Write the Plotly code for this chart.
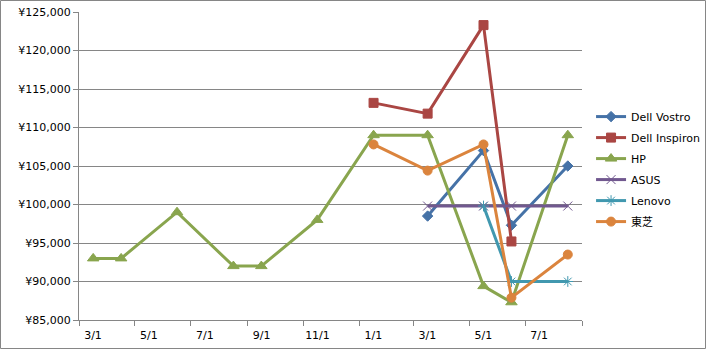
import plotly.graph_objects as go

hp_months = ["2009-03", "2009-04", "2009-06", "2009-08", "2009-09", "2009-11",
             "2010-01", "2010-03", "2010-05", "2010-06", "2010-08"]
hp_vals = [93000, 93000, 99000, 92000, 92000, 98000, 109000, 109000, 89400, 87300, 109000]

vostro_months = ["2010-03", "2010-05", "2010-06", "2010-08"]
vostro_vals = [98500, 107000, 97300, 105000]

inspiron_months = ["2010-01", "2010-03", "2010-05", "2010-06"]
inspiron_vals = [113200, 111800, 123300, 95200]

asus_months = ["2010-03", "2010-05", "2010-06", "2010-08"]
asus_vals = [99800, 99800, 99800, 99800]

lenovo_months = ["2010-05", "2010-06", "2010-08"]
lenovo_vals = [99800, 90000, 90000]

toshiba_months = ["2010-01", "2010-03", "2010-05", "2010-06", "2010-08"]
toshiba_vals = [107800, 104400, 107800, 87900, 93500]

tick_dates = ["2009-03-01", "2009-05-01", "2009-07-01", "2009-09-01", "2009-11-01",
              "2010-01-01", "2010-03-01", "2010-05-01", "2010-07-01", "2010-09-01"]
tick_labels = ["3/1", "5/1", "7/1", "9/1", "11/1", "1/1", "3/1", "5/1", "7/1", ""]

series = [
    ("Dell Vostro", vostro_months, vostro_vals, "#4572A7", "diamond", 8),
    ("Dell Inspiron", inspiron_months, inspiron_vals, "#AA4643", "square", 9),
    ("HP", hp_months, hp_vals, "#89A54E", "triangle-up", 10),
    ("ASUS", asus_months, asus_vals, "#71588F", "x-thin-open", 9),
    ("Lenovo", lenovo_months, lenovo_vals, "#4198AF", "asterisk-open", 9),
    ("東芝", toshiba_months, toshiba_vals, "#DB843D", "circle", 9),
]

fig = go.Figure()
for name, xs, ys, color, sym, size in series:
    fig.add_trace(go.Scatter(
        x=xs, y=ys, name=name, mode="lines+markers", legendgroup=name,
        xperiod="M1", xperiodalignment="middle",
        line=dict(color=color, width=3),
        marker=dict(symbol=sym, size=size, color=color,
                    line=dict(color=color, width=1)),
    ))

L, R, T, B = 79, 125, 12, 30
W, H = 707, 350
pw, ph = W - L - R, H - T - B

fig.update_layout(
    width=W, height=H,
    margin=dict(l=L, r=R, t=T, b=B, autoexpand=False),
    paper_bgcolor="white", plot_bgcolor="white",
    font=dict(family="DejaVu Sans, Noto Sans CJK JP", size=11, color="black"),
    showlegend=True,
    legend=dict(x=1.018, xanchor="left", y=0.49, yanchor="middle",
                font=dict(size=11), itemwidth=30, tracegroupgap=2,
                bgcolor="rgba(0,0,0,0)"),
    xaxis=dict(
        type="date", range=[tick_dates[0], tick_dates[-1]],
        tickmode="array", tickvals=tick_dates, ticktext=tick_labels,
        ticks="outside", ticklen=5, tickcolor="#868686",
        ticklabelshift=14, automargin=False,
        showgrid=False, showline=True, linecolor="#868686", linewidth=1,
        zeroline=False, fixedrange=True,
    ),
    yaxis=dict(
        range=[85000, 125000], dtick=5000, tickprefix="¥", tickformat=",d",
        ticks="outside", ticklen=5, tickcolor="#868686", automargin=False,
        showgrid=True, gridcolor="#868686", gridwidth=1,
        showline=True, linecolor="#868686", linewidth=1,
        zeroline=False,
    ),
    shapes=[dict(type="rect", xref="paper", yref="paper",
                 x0=-(L - 0.5) / pw, x1=1 + (R - 1.5) / pw,
                 y0=-(B - 1.5) / ph, y1=1 + (T - 0.5) / ph,
                 line=dict(color="#868686", width=1), layer="below")],
)

fig.write_html("out.html")
